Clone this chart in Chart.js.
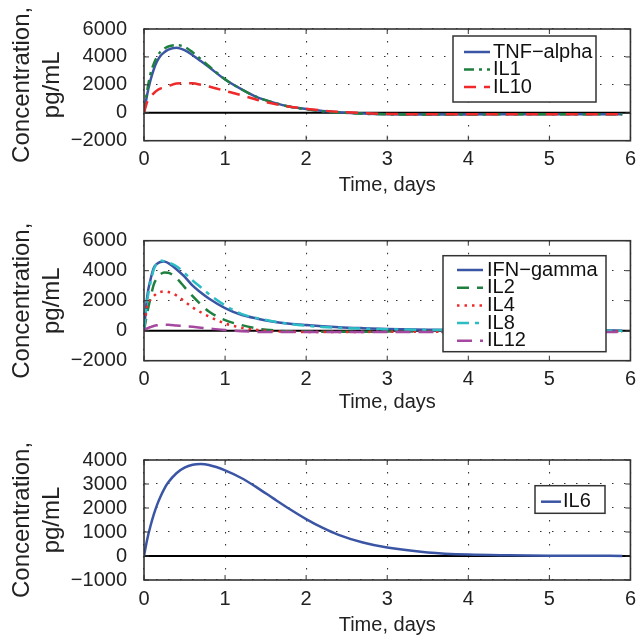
<!DOCTYPE html>
<html>
<head>
<meta charset="utf-8">
<script src="https://cdn.jsdelivr.net/npm/chart.js@4.4.0/dist/chart.umd.min.js"></script>
<style>
  body { margin: 0; background: #fff; }
  .panel { position: absolute; left: 0; width: 643px; }
</style>
</head>
<body>
<div class="panel" style="top:0;height:210px"><canvas id="chartTop"></canvas></div>
<div class="panel" style="top:210px;height:210px"><canvas id="chartMid"></canvas></div>
<div class="panel" style="top:420px;height:218px"><canvas id="chartBottom"></canvas></div>
<script>
'use strict';

//---------------------- data -------------------
let timeDays = [0, 0.04, 0.08, 0.12, 0.16, 0.2, 0.25, 0.3, 0.4, 0.5, 0.6, 0.7, 0.8, 1.0, 1.2, 1.4, 1.6, 1.8, 2.0, 2.2, 2.4, 2.7, 3.0, 3.5, 4.0, 4.5, 5.0, 5.5, 5.9];

// top panel
let tnfAlpha = [0, 1330, 2330, 3100, 3670, 4050, 4330, 4530, 4660, 4480, 4120, 3700, 3270, 2380, 1690, 1100, 730, 440, 270, 130, 40, -50, -100, -120, -120, -110, -100, -100, -100];
let il1 = [0, 1600, 2780, 3500, 4000, 4350, 4600, 4750, 4840, 4720, 4330, 3850, 3350, 2400, 1690, 1100, 720, 430, 250, 110, 20, -70, -110, -130, -120, -110, -100, -100, -100];
let il10 = [0, 780, 1150, 1400, 1600, 1730, 1800, 1900, 2100, 2120, 2110, 2000, 1880, 1570, 1260, 920, 650, 430, 290, 160, 70, -20, -80, -110, -110, -100, -100, -100, -100];

// middle panel
let ifnGamma = [0, 2300, 3400, 4180, 4450, 4580, 4620, 4500, 4100, 3600, 3000, 2550, 2150, 1510, 1060, 800, 600, 470, 380, 300, 235, 170, 120, 70, 40, 25, 15, 10, 5];
let il2 = [0, 1200, 2180, 3070, 3500, 3750, 3880, 3860, 3500, 2900, 2300, 1750, 1280, 700, 380, 140, 20, -40, -60, -70, -70, -70, -60, -50, -40, -40, -40, -40, -40];
let il4 = [0, 1700, 2070, 2300, 2500, 2580, 2620, 2580, 2350, 1950, 1550, 1230, 950, 480, 200, 50, -40, -70, -80, -80, -80, -80, -70, -70, -60, -60, -60, -60, -60];
let il8 = [0, 2000, 3200, 4070, 4500, 4690, 4620, 4550, 4300, 3850, 3350, 2900, 2450, 1690, 1120, 830, 620, 450, 330, 250, 195, 140, 100, 55, 30, 15, 10, 5, 0];
let il12 = [0, 150, 240, 310, 360, 390, 400, 390, 350, 310, 260, 200, 150, 40, -30, -80, -90, -90, -90, -90, -90, -90, -90, -80, -80, -80, -80, -80, -80];

// bottom panel
let il6 = [0, 700, 1250, 1720, 2120, 2450, 2800, 3070, 3450, 3680, 3800, 3830, 3790, 3570, 3250, 2840, 2390, 1950, 1540, 1180, 880, 560, 350, 150, 60, 30, 15, 10, 5];

let xTicks = [0, 1, 2, 3, 4, 5, 6];
let yTicksTop = [-2000, 0, 2000, 4000, 6000];
let yTicksMid = [-2000, 0, 2000, 4000, 6000];
let yTicksBottom = [-1000, 0, 1000, 2000, 3000, 4000];

let fontFamily = '"Liberation Sans", Arial, Helvetica, sans-serif';

function toPoints(values) {
  return values.map((v, i) => ({x: timeDays[i], y: v}));
}

function series(label, values, color, dash, order) {
  return {
    label: label,
    data: toPoints(values),
    borderColor: color,
    backgroundColor: color,
    borderWidth: 2.5,
    borderDash: dash,
    pointRadius: 0,
    cubicInterpolationMode: 'monotone',
    fill: false,
    order: order
  };
}

// box, inner ticks, zero line and a matlab style legend inside the plot
let matlabFrame = {
  id: 'matlabFrame',
  beforeDatasetsDraw(chart) {
    let ctx = chart.ctx;
    let a = chart.chartArea;
    let y0 = chart.scales.y.getPixelForValue(0);
    ctx.save();
    ctx.strokeStyle = '#000';
    ctx.lineWidth = 2;
    ctx.beginPath();
    ctx.moveTo(a.left, y0);
    ctx.lineTo(a.right, y0);
    ctx.stroke();
    ctx.restore();
  },
  afterDatasetsDraw(chart, args, opts) {
    let ctx = chart.ctx;
    let a = chart.chartArea;
    ctx.save();
    ctx.strokeStyle = '#333';
    ctx.lineWidth = 1;
    ctx.beginPath();
    chart.scales.x.ticks.forEach(t => {
      let px = chart.scales.x.getPixelForValue(t.value);
      ctx.moveTo(px, a.top); ctx.lineTo(px, a.top + 5);
      ctx.moveTo(px, a.bottom); ctx.lineTo(px, a.bottom - 5);
    });
    chart.scales.y.ticks.forEach(t => {
      let py = chart.scales.y.getPixelForValue(t.value);
      ctx.moveTo(a.left, py); ctx.lineTo(a.left + 5, py);
      ctx.moveTo(a.right, py); ctx.lineTo(a.right - 5, py);
    });
    ctx.stroke();
    ctx.lineWidth = 1.6;
    ctx.strokeRect(a.left, a.top, a.right - a.left, a.bottom - a.top);

    let lg = opts.legend;
    if (lg) {
      ctx.fillStyle = '#fff';
      ctx.fillRect(lg.x, lg.y, lg.w, lg.h);
      ctx.strokeStyle = '#333';
      ctx.lineWidth = 1.5;
      ctx.strokeRect(lg.x, lg.y, lg.w, lg.h);
      ctx.font = '20px ' + fontFamily;
      ctx.textBaseline = 'middle';
      ctx.textAlign = 'left';
      chart.data.datasets.forEach((ds, i) => {
        let ry = lg.firstRow + i * lg.rowGap;
        ctx.strokeStyle = ds.borderColor;
        ctx.lineWidth = ds.borderWidth;
        ctx.setLineDash(ds.borderDash || []);
        ctx.beginPath();
        ctx.moveTo(lg.lineFrom, ry);
        ctx.lineTo(lg.lineTo, ry);
        ctx.stroke();
        ctx.setLineDash([]);
        ctx.fillStyle = '#111';
        ctx.fillText(ds.label, lg.textX, ry);
      });
    }
    ctx.restore();
  }
};

function makeChart(canvasId, datasets, yTicks, frame, legend) {
  let ctx = document.getElementById(canvasId).getContext('2d');
  let titleLine = 20 * 1.2;
  return new Chart(ctx, {
    type: 'line',
    data: {datasets: datasets},
    options: {
      responsive: true,
      maintainAspectRatio: false,
      animation: false,
      events: [],
      layout: {padding: {top: frame.top, right: 12, left: 0, bottom: 0}},
      plugins: {
        legend: {display: false},
        tooltip: {enabled: false},
        matlabFrame: {legend: legend}
      },
      scales: {
        x: {
          type: 'linear',
          min: xTicks[0],
          max: xTicks[xTicks.length - 1],
          afterBuildTicks: s => { s.ticks = xTicks.map(v => ({value: v})); },
          afterFit: s => { s.height = frame.h - frame.bottom; },
          ticks: {font: {size: 20, family: fontFamily}, color: '#222', padding: 7, autoSkip: false, maxRotation: 0, callback: v => String(v)},
          grid: {color: '#333', lineWidth: 1.1, drawTicks: false},
          border: {display: false, dash: [1.5, 10.5]},
          title: {
            display: true,
            text: 'Time, days',
            color: '#222',
            font: {size: 20, family: fontFamily},
            padding: {top: 0, bottom: frame.h - frame.xTitle - titleLine / 2}
          }
        },
        y: {
          type: 'linear',
          min: yTicks[0],
          max: yTicks[yTicks.length - 1],
          afterBuildTicks: s => { s.ticks = yTicks.map(v => ({value: v})); },
          afterFit: s => { s.width = 144; },
          ticks: {
            font: {size: 20, family: fontFamily},
            color: '#222',
            padding: 17,
            autoSkip: false,
            callback: v => (v < 0 ? '\u2212' + Math.abs(v) : String(v))
          },
          grid: {color: '#333', lineWidth: 1.1, drawTicks: false},
          border: {display: false, dash: [1.5, 10.5]},
          title: {
            display: true,
            text: ['Concentration,', 'pg/mL'],
            color: '#222',
            font: {size: 24, family: fontFamily, lineHeight: 1.25},
            padding: {top: 7, bottom: 0}
          }
        }
      }
    },
    plugins: [matlabFrame]
  });
}

makeChart('chartTop', [
  series('TNF\u2212alpha', tnfAlpha, '#3b55a5', [], 0),
  series('IL1', il1, '#1f7f3f', [10, 5, 3, 5], -1),
  series('IL10', il10, '#ee2a2a', [12, 8], -2)
], yTicksTop, {top: 20.7, bottom: 140.7, h: 210, xTitle: 185},
{x: 453, y: 36, w: 143, h: 66, firstRow: 52, rowGap: 17.5, lineFrom: 464, lineTo: 490, textX: 493});

makeChart('chartMid', [
  series('IFN\u2212gamma', ifnGamma, '#3b55a5', [], 0),
  series('IL2', il2, '#1f7f3f', [12, 8], -1),
  series('IL4', il4, '#ee2a2a', [2.5, 5], -2),
  series('IL8', il8, '#2cbcc4', [12, 6, 4, 6], -3),
  series('IL12', il12, '#a5489f', [15, 8], -4)
], yTicksMid, {top: 30.7, bottom: 150.7, h: 210, xTitle: 192},
{x: 443, y: 45.7, w: 163, h: 96, firstRow: 60, rowGap: 17.7, lineFrom: 457, lineTo: 483, textX: 487});

makeChart('chartBottom', [
  series('IL6', il6, '#3b55a5', [], 0)
], yTicksBottom, {top: 40, bottom: 160, h: 218, xTitle: 205},
{x: 535, y: 65.7, w: 70, h: 27.6, firstRow: 81.7, rowGap: 0, lineFrom: 541, lineTo: 561, textX: 563});
</script>
</body>
</html>
